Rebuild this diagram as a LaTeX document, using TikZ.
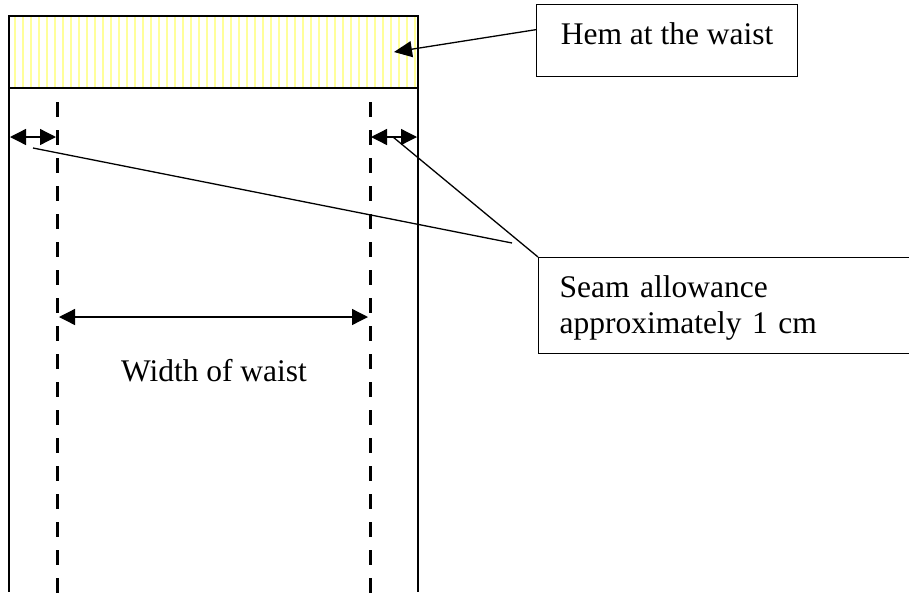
\documentclass[tikz,border=0pt]{standalone}
\usepackage{fontspec}
\setmainfont{Liberation Serif}
\usetikzlibrary{arrows.meta}
\definecolor{hemyellow}{RGB}{255,255,153}

\begin{document}
\begin{tikzpicture}[x=1pt, y=-1pt,
    outline/.style={line width=1.6pt},
    seamline/.style={line width=3pt, dash pattern=on 15pt off 13pt},
    tip/.style={line width=1.3pt},
    dim/.style={tip, {Triangle[length=16pt,width=16pt]}-{Triangle[length=16pt,width=16pt]}},
    labelbox/.style={draw, line width=1.3pt, anchor=north west, align=left,
        inner xsep=21pt, inner ysep=18pt, text height=22pt,
        font=\fontsize{31.5}{36}\selectfont}]
\useasboundingbox (0,0) rectangle (909,592);

% hem band
\foreach \x in {15,23,...,415}
    \fill[hemyellow] (\x-1.2,16) rectangle (\x+1.2,88);
\draw[outline] (9,16) rectangle (418,88);
\draw[outline] (9,88) -- (9,592);
\draw[outline] (418,88) -- (418,592);

% seam lines
\draw[seamline] (57,102) -- (57,600);
\draw[seamline] (370,102) -- (370,600);

% labels
\node[labelbox, minimum width=261pt, text depth=14pt] (hem) at (536,4) {Hem at the waist};
\node[labelbox, text width=332pt, text depth=38pt] (seam) at (538,257) {Seam allowance\\approximately 1 cm};
\node[font=\fontsize{31.5}{36}\selectfont, anchor=base] (width) at (214,381) {Width of waist};

\coordinate (la) at (10,137);
\coordinate (lb) at (56,137);
\coordinate (ra) at (371,137);
\coordinate (rb) at (417,137);
\coordinate (wa) at (59,317);
\coordinate (wb) at (368,317);
\coordinate (hemtip) at (394,52);
\coordinate (lefttail) at (33,148);
\coordinate (righttail) at (393,137);
\coordinate (meet) at (512,243);

\draw[dim] (la) -- (lb);
\draw[dim] (ra) -- (rb);
\draw[dim] (wa) -- (wb);
\draw[tip, -{Triangle[length=18pt,width=16pt]}] ([yshift=11pt]hem.west) -- (hemtip);
\draw[tip] (righttail) -- (seam.north west);
\draw[tip] (lefttail) -- (meet);
\end{tikzpicture}
\end{document}
